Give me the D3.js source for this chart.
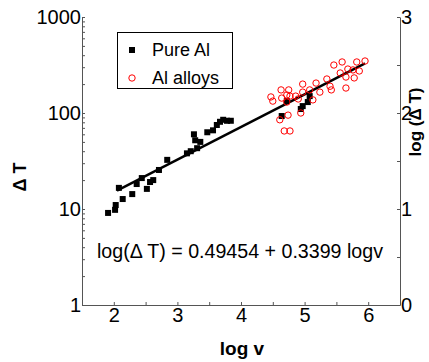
<!DOCTYPE html>
<html>
<head>
<meta charset="utf-8">
<script src="https://cdn.jsdelivr.net/npm/d3@7/dist/d3.min.js"></script>
<style>
  body { margin: 0; background: #fff; }
  svg { display: block; font-family: "Liberation Sans", Arial, sans-serif; }
</style>
</head>
<body>
<svg id="chart" width="429" height="362"></svg>
<script>
// pure Al: log v and undercooling (ΔT)
const pureLogV = [1.91, 2.02, 2.03, 2.14, 2.08, 2.29, 2.36, 2.44, 2.52, 2.57, 2.62, 2.71, 2.84,
                  3.15, 3.21, 3.26, 3.28, 3.31, 3.36, 3.47, 3.56, 3.62, 3.67, 3.72, 3.78, 3.84,
                  4.64, 4.72, 4.94, 4.97, 5.05, 5.08];
const pureDT   = [9.1, 9.8, 11, 12.7, 16.6, 14.3, 18.2, 21, 16.2, 19.1, 20, 25.5, 32.5,
                  38, 40, 60, 52, 43, 50, 63, 66, 75, 81, 85, 83, 83,
                  93, 133, 110, 118, 130, 150];
// Al alloys
const alloyLogV = [4.47, 4.50, 4.63, 4.64, 4.72, 4.75, 4.77, 4.86, 4.97, 4.97, 5.08, 5.13, 5.18,
                   5.24, 5.35, 5.42, 5.46, 5.59, 5.56, 5.68, 5.65, 5.65, 5.78, 5.76, 5.82, 5.86,
                   5.95, 4.74, 4.61, 4.94, 4.68, 4.77, 4.72, 4.90, 5.40];
const alloyDT   = [147, 133, 174, 143, 154, 174, 150, 150, 200, 165, 174, 137, 205,
                   165, 226, 174, 316, 340, 261, 287, 237, 182, 232, 281, 340, 274,
                   348, 95, 85, 100, 65, 65, 130, 140, 190];
// linear fit log(ΔT) = a + b logv
const fitA = 0.49454, fitB = 0.3399;
const fitRange = [2.05, 5.95];
const xTicks = [2, 2.5, 3, 3.5, 4, 4.5, 5, 5.5, 6];
const yLabels = [1, 10, 100, 1000];
const rTicks = [0, 0.5, 1, 1.5, 2, 2.5, 3];

const svg = d3.select("#chart");
const x = d3.scaleLinear().domain([1.5, 6.5]).range([82, 400]);
const y = d3.scaleLog().domain([1, 1000]).range([305, 17]);
const yR = d3.scaleLinear().domain([0, 3]).range([305, 17]);

// all minor log ticks
let yTicks = [];
[1, 10, 100].forEach(d => { for (let k = 1; k < 10; k++) yTicks.push(d * k); });
yTicks.push(1000);

const axisColor = "#555";
function styleAxis(g) {
  g.selectAll("path, line").attr("stroke", axisColor);
  g.selectAll("text").attr("font-size", 20).attr("fill", "#000")
   .attr("font-family", "'Liberation Sans', Arial, sans-serif");
}

svg.append("g").attr("transform", "translate(0,305)")
  .call(d3.axisBottom(x).tickValues(xTicks).tickSizeInner(-3).tickSizeOuter(0).tickPadding(3)
    .tickFormat(d => Number.isInteger(d) ? d : ""))
  .call(styleAxis);

svg.append("g").attr("transform", "translate(82,0)")
  .call(d3.axisLeft(y).tickValues(yTicks).tickSizeOuter(0).tickPadding(1)
    .tickSizeInner(-3)
    .tickFormat(d => yLabels.includes(d) ? d : ""))
  .call(styleAxis);

svg.append("g").attr("transform", "translate(400,0)")
  .call(d3.axisRight(yR).tickValues(rTicks).tickSizeInner(-3).tickSizeOuter(0).tickPadding(1)
    .tickFormat(d => Number.isInteger(d) ? d : ""))
  .call(styleAxis);

// axis titles
svg.append("text").attr("transform", "translate(26,177) rotate(-90)")
  .attr("text-anchor", "middle").attr("font-weight", "bold").attr("font-size", 18)
  .text("Δ T");
svg.append("text").attr("x", 242).attr("y", 355)
  .attr("text-anchor", "middle").attr("font-weight", "bold").attr("font-size", 19)
  .text("log v");
svg.append("text").attr("transform", "translate(421,122) rotate(-90)")
  .attr("text-anchor", "middle").attr("font-weight", "bold").attr("font-size", 17)
  .text("log (Δ T)");

// fit line
const fitPts = fitRange.map(v => [x(v), y(Math.pow(10, fitA + fitB * v))]);
svg.append("path").attr("d", d3.line()(fitPts))
  .attr("stroke", "#000").attr("stroke-width", 2.5).attr("fill", "none");

// pure Al squares
svg.append("g").selectAll("rect").data(pureLogV).join("rect")
  .attr("x", (d, i) => x(d) - 3).attr("y", (d, i) => y(pureDT[i]) - 3)
  .attr("width", 6).attr("height", 6).attr("fill", "#000");

// Al alloy circles
svg.append("g").selectAll("circle").data(alloyLogV).join("circle")
  .attr("cx", d => x(d)).attr("cy", (d, i) => y(alloyDT[i]))
  .attr("r", 3.2).attr("fill", "none").attr("stroke", "#f00").attr("stroke-width", 1);

// legend
const lg = svg.append("g");
lg.append("rect").attr("x", 117.5).attr("y", 32.5).attr("width", 115).attr("height", 56)
  .attr("fill", "#fff").attr("stroke", "#000");
lg.append("rect").attr("x", 129).attr("y", 47).attr("width", 6).attr("height", 6).attr("fill", "#000");
lg.append("circle").attr("cx", 132).attr("cy", 78).attr("r", 3.2)
  .attr("fill", "none").attr("stroke", "#f00");
lg.append("text").attr("x", 152).attr("y", 56).attr("font-size", 18).text("Pure Al");
lg.append("text").attr("x", 152).attr("y", 84).attr("font-size", 18).text("Al alloys");

// equation
svg.append("text").attr("x", 97).attr("y", 258).attr("font-size", 20)
  .attr("textLength", 286).attr("lengthAdjust", "spacingAndGlyphs")
  .text("log(Δ T) = " + fitA + " + " + fitB + " logv");
</script>
</body>
</html>
